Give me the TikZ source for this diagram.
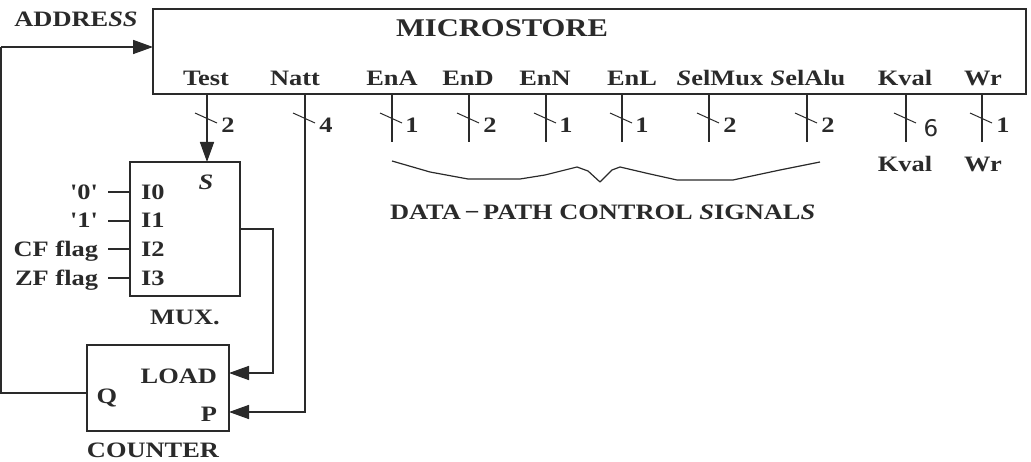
\documentclass[tikz,border=0pt]{standalone}
\usepackage{fontspec}
\usetikzlibrary{arrows.meta}
\newfontfamily\lblfont[FakeStretch=1.2]{Liberation Serif}
\newfontfamily\sixfont{DejaVu Sans}
\definecolor{ink}{HTML}{2A2A2A}
\tikzset{
  lbl/.style={font=\lblfont\bfseries\fontsize{22}{24}\selectfont,text=ink,inner sep=0,outer sep=0,anchor=base},
  lblr/.style={lbl,anchor=base east},
  lbll/.style={lbl,anchor=base west},
  big/.style={lbl,font=\lblfont\bfseries\fontsize{25.5}{28}\selectfont},
  blockbox/.style={draw=ink,line width=1.8pt,inner sep=0,outer sep=0,anchor=north west},
  wire/.style={draw=ink,line width=1.6pt},
  thinwire/.style={draw=ink,line width=1.2pt},
  arrowed/.style={wire,-{Triangle[length=20pt,width=14pt]},shorten >=0pt},
}
\begin{document}
\begin{tikzpicture}[x=1pt,y=-1pt]
\useasboundingbox (0,0) rectangle (1031,462);
% boxes
\node[blockbox,minimum width=873pt,minimum height=85pt] (micro) at (153,9) {};
\node[blockbox,minimum width=110pt,minimum height=134pt] (mux) at (130,162) {};
\node[blockbox,minimum width=142pt,minimum height=86pt] (counter) at (87,345) {};
% free ends and routing points
\coordinate (left) at (1,47);
\coordinate (qlevel) at (87,393);
\coordinate (testx) at (207,162);
\coordinate (loadin) at (229,373);
\coordinate (pin) at (229,412);
\coordinate (muxout) at (240,229);
\coordinate (muxturn) at (273,229);
\coordinate (nattx) at (305,412);
% feedback
\draw[wire] (qlevel) -- (left |- qlevel) -- (left);
\draw[arrowed] (left) -- (left -| micro.west);
% select bus into the mux
\draw[arrowed] (testx |- micro.south) -- (testx);
% mux output to LOAD
\draw[arrowed] (muxout) -- (muxturn) -- (muxturn |- loadin) -- (loadin);
% Natt to P
\draw[arrowed] (nattx |- micro.south) -- (nattx) -- (pin);
% output stubs
\foreach \nm/\px in {EnA/392,EnD/469,EnN/546,EnL/622,SelMux/709,SelAlu/807,Kval/906,Wr/982}{
  \coordinate (end\nm) at (\px,142);
  \draw[wire] (end\nm |- micro.south) -- (end\nm);
}
% bus ticks
\foreach \px in {207,305,392,469,546,622,709,807,906,982}{
  \draw[draw=ink,line width=1pt] (\px-12,113) -- (\px+10,123);
}
% signal names in the microstore
\node[big] (ttl) at (502,37) {MICROSTORE};
\node[lbl] (ntest) at (206,86) {Test};
\node[lbl] (nnatt) at (295,86) {Natt};
\node[lbl] (nena) at (392,86) {EnA};
\node[lbl] (nend) at (468,86) {EnD};
\node[lbl] (nenn) at (545,86) {EnN};
\node[lbl] (nenl) at (632,86) {EnL};
\node[lbl] (nselmux) at (720,86) {\textit{S}elMux};
\node[lbl] (nselalu) at (808,86) {\textit{S}elAlu};
\node[lbl] (nkval) at (905,86) {Kval};
\node[lbl] (nwr) at (983,86) {Wr};
\node[lbl] (naddr) at (76,27) {ADDRE\textit{SS}};
% widths
\node[lbl] (w1) at (228,133) {2};
\node[lbl] (w2) at (326,133) {4};
\node[lbl] (w3) at (412,133) {1};
\node[lbl] (w4) at (490,133) {2};
\node[lbl] (w5) at (566,133) {1};
\node[lbl] (w6) at (642,133) {1};
\node[lbl] (w7) at (730,133) {2};
\node[lbl] (w8) at (828,133) {2};
\node[lbl,font=\sixfont\fontsize{23}{26}\selectfont] (w9) at (931,137) {6};
\node[lbl] (w10) at (1003,133) {1};
% below the stubs
\node[lbl] (kv2) at (905,172) {Kval};
\node[lbl] (wr2) at (983,172) {Wr};
\draw[thinwire,line join=round] (392,161) -- (430,172) -- (468,179) -- (520,179) -- (545,175) -- (577,167) -- (588,171) -- (600,182) -- (612,170) -- (620,167) -- (650,174) -- (677,180) -- (733,180) -- (780,170) -- (820,162);
\node[lbll] (dpc) at (390,220) {DATA\,−\,PATH CONTROL \textit{S}IGNAL\textit{S}};
% mux
\node[lbl] (sel) at (206,190) {\textit{S}};
\foreach \nm/\py/\base/\ilab/\olab in {a/192/200/I0/'0',b/221/228/I1/'1',c/249/257/I2/CF flag,d/278/286/I3/ZF flag}{
  \coordinate (in\nm) at (108,\py);
  \draw[thinwire] (in\nm) -- (in\nm -| mux.west);
  \node[lbll] (ilab\nm) at (141,\base) {\ilab};
  \node[lblr] (olab\nm) at (98,\base) {\olab};
}
\node[lbl] (mxl) at (185,325) {MUX.};
% counter
\node[lbl] (q) at (107,403) {Q};
\node[lblr] (ld) at (217,383) {LOAD};
\node[lblr] (p) at (217,421) {P};
\node[lbl] (cl) at (153,457) {COUNTER};
\end{tikzpicture}
\end{document}
